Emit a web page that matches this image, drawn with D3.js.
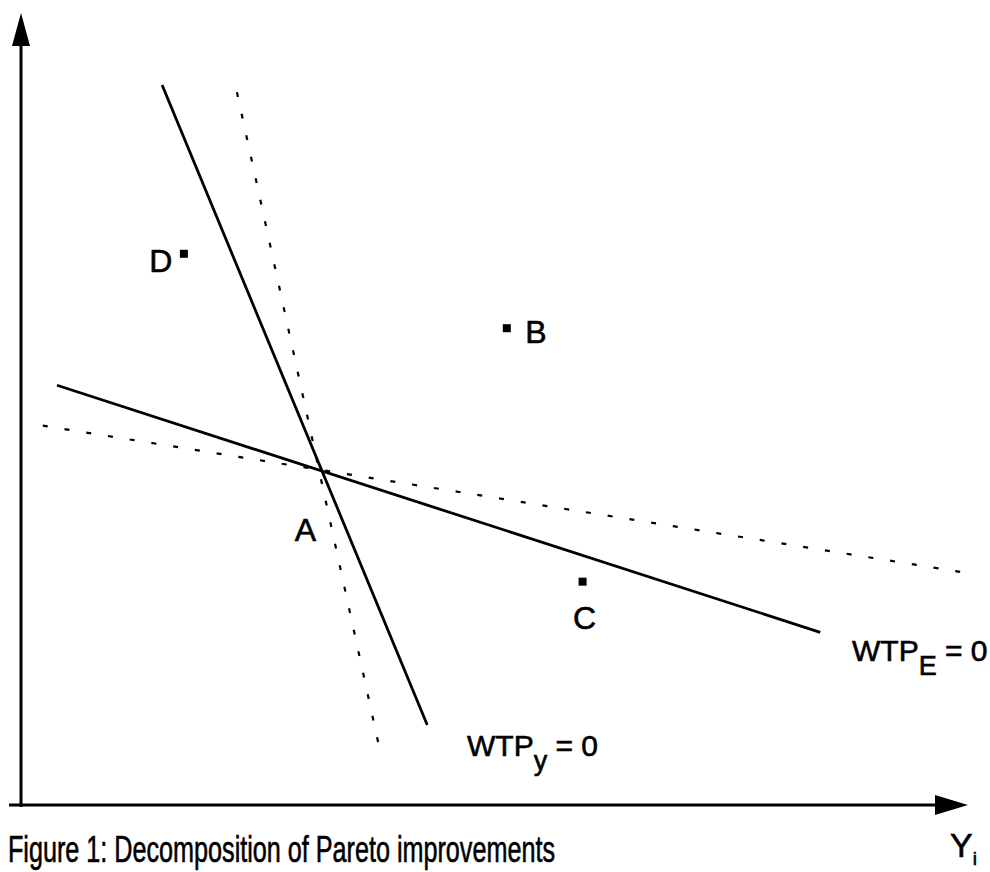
<!DOCTYPE html>
<html>
<head>
<meta charset="utf-8">
<script src="https://cdn.jsdelivr.net/npm/d3@7"></script>
<style>
  body { margin: 0; background: #fff; }
  svg { display: block; }
  text { font-family: "Liberation Sans", Arial, sans-serif; fill: #000; stroke: #000; stroke-width: 0.6; }
</style>
</head>
<body>
<script>
// Decomposition of Pareto improvements - values in an arbitrary 0..100 space

var lineNames = ["WTPy", "WTPE", "WTPyShift", "WTPEShift"];
var lineStart = [[14.9, 90.9], [3.8, 53.0], [22.8, 90.0], [2.3, 47.9]];
var lineEnd = [[42.9, 10.1], [84.4, 21.8], [37.9, 6.9], [100.4, 29.2]];
var lineDotted = [false, false, true, true];

var pointNames = ["A", "B", "C", "D"];
var pointX = [31.4, 51.3, 59.3, 17.2];
var pointY = [42.3, 60.2, 28.2, 69.6];
var pointMarked = [false, true, true, true];

var width = 990, height = 872;

var svg = d3.select(document.body).append("svg")
    .attr("width", width)
    .attr("height", height);

var x = d3.scaleLinear().domain([0, 100]).range([21, 968]);
var y = d3.scaleLinear().domain([0, 100]).range([805, 13]);

// axes with arrow heads
svg.append("line")
    .attr("x1", x(0)).attr("y1", y(0) + 2)
    .attr("x2", x(0)).attr("y2", y(96))
    .attr("stroke", "#000").attr("stroke-width", 3);
svg.append("path")
    .attr("d", "M" + x(0) + "," + y(100) + "L" + (x(0) - 9) + "," + (y(100) + 33) +
        "L" + (x(0) + 9) + "," + (y(100) + 33) + "Z")
    .attr("fill", "#000");

svg.append("line")
    .attr("x1", x(0) - 12).attr("y1", y(0))
    .attr("x2", x(97)).attr("y2", y(0))
    .attr("stroke", "#000").attr("stroke-width", 3);
svg.append("path")
    .attr("d", "M" + x(100) + "," + y(0) + "L" + (x(100) - 33) + "," + (y(0) - 10) +
        "L" + (x(100) - 33) + "," + (y(0) + 10) + "Z")
    .attr("fill", "#000");

// lines
var lines = lineNames.map((n, i) => ({
    name: n,
    a: lineStart[i],
    b: lineEnd[i],
    dotted: lineDotted[i]
}));

svg.append("g")
    .selectAll("line")
    .data(lines)
    .join("line")
    .attr("x1", (d) => x(d.a[0]))
    .attr("y1", (d) => y(d.a[1]))
    .attr("x2", (d) => x(d.b[0]))
    .attr("y2", (d) => y(d.b[1]))
    .attr("stroke", "#000")
    .attr("stroke-width", (d) => d.dotted ? 2.2 : 2.8)
    .attr("stroke-dasharray", (d) => d.dotted ? "5 17" : null);

// points
var points = pointNames.map((n, i) => ({
    name: n,
    x: pointX[i],
    y: pointY[i],
    marked: pointMarked[i]
}));

svg.append("g")
    .selectAll("rect")
    .data(points.filter((d) => d.marked))
    .join("rect")
    .attr("x", (d) => x(d.x) - 4)
    .attr("y", (d) => y(d.y) - 4)
    .attr("width", 8)
    .attr("height", 8)
    .attr("fill", "#000");

// point labels, offset from their points
var labelOffset = {
    A: [-13, 71],
    B: [29, 15],
    C: [2, 47],
    D: [-23, 18]
};

svg.append("g")
    .attr("font-size", 32)
    .attr("text-anchor", "middle")
    .selectAll("text")
    .data(points)
    .join("text")
    .attr("x", (d) => x(d.x) + labelOffset[d.name][0])
    .attr("y", (d) => y(d.y) + labelOffset[d.name][1])
    .text((d) => d.name);

// line labels
function subLabel(px, py, main, sub, rest) {
    var t = svg.append("text")
        .attr("x", px).attr("y", py)
        .attr("font-size", 30);
    t.append("tspan").text(main);
    t.append("tspan").attr("dy", 14).attr("font-size", 27).text(sub);
    t.append("tspan").attr("dy", -14).text(rest);
}

subLabel(852, 661, "WTP", "E", " = 0");
subLabel(467, 756, "WTP", "y", "  = 0");

// caption and axis label
svg.append("text")
    .attr("x", 8)
    .attr("y", 862)
    .attr("font-size", 37)
    .attr("textLength", 547)
    .attr("lengthAdjust", "spacingAndGlyphs")
    .text("Figure 1: Decomposition of Pareto improvements");

var yl = svg.append("text")
    .attr("x", 950)
    .attr("y", 857)
    .attr("font-size", 34);
yl.append("tspan").text("Y");
yl.append("tspan").attr("dy", 8).attr("font-size", 19).text("i");
</script>
</body>
</html>
